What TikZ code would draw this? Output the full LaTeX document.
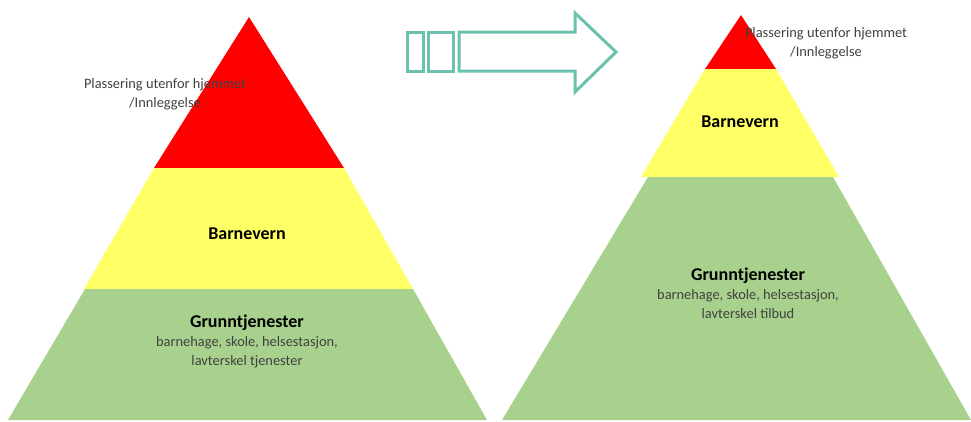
\documentclass[tikz,border=0pt]{standalone}
\usepackage{fontspec}
\setmainfont{Carlito}
\usepackage{tikz}
\usetikzlibrary{positioning}

\definecolor{pyrred}{RGB}{255,0,0}
\definecolor{pyryellow}{RGB}{255,255,102}
\definecolor{pyrgreen}{RGB}{169,209,142}
\definecolor{arrowteal}{RGB}{108,192,174}
\definecolor{labelgray}{RGB}{64,64,64}

\begin{document}
\begin{tikzpicture}[x=1bp,y=-1bp]
	\tikzstyle{layer}=[draw=none]
	\tikzstyle{title}=[inner sep=0pt,font=\bfseries\fontsize{18bp}{21bp}\selectfont,text=black]
	\tikzstyle{sub}=[inner sep=0pt,align=center,font=\fontsize{14.4bp}{19bp}\selectfont,text=labelgray]
	\tikzstyle{stripe}=[draw=arrowteal,line width=3bp,fill=white,line join=miter]

	\useasboundingbox (0,0) rectangle (971,421);

	%% Left pyramid
	\fill[layer,pyrred] (249,17) -- (344,168) -- (154,168) -- cycle;
	\fill[layer,pyryellow] (154,168) -- (344,168) -- (413,289) -- (84,289) -- cycle;
	\fill[layer,pyrgreen] (85,289) -- (413,289) -- (487,420) -- (8,420) -- cycle;

	\node[sub] (plassL) at (165,94) {Plassering utenfor hjemmet\\/Innleggelse};
	\node[title] (barnL) at (247,234) {Barnevern};
	\node[title] (grunnL) at (247,323) {Grunntjenester};
	\node[sub] (tjenL) at (247,352) {barnehage, skole, helsestasjon,\\lavterskel tjenester};

	%% Striped arrow
	\draw[stripe] (407,32) rectangle (423,71);
	\draw[stripe] (428,32) rectangle (453,71);
	\draw[stripe] (459,32) -- (575,32) -- (575,13) -- (616,52) -- (575,92)
		-- (575,71) -- (459,71) -- cycle;

	%% Right pyramid
	\fill[layer,pyrred] (741,15) -- (776,69) -- (705,69) -- cycle;
	\fill[layer,pyryellow] (705,69) -- (776,69) -- (839,177) -- (641,177) -- cycle;
	\fill[layer,pyrgreen] (648,177) -- (833,177) -- (971,420) -- (502,420) -- cycle;

	\node[sub] (plassR) at (826,43) {Plassering utenfor hjemmet\\/Innleggelse};
	\node[title] (barnR) at (740,122) {Barnevern};
	\node[title] (grunnR) at (748,276) {Grunntjenester};
	\node[sub] (tjenR) at (748,304) {barnehage, skole, helsestasjon,\\lavterskel tilbud};

\end{tikzpicture}
\end{document}
